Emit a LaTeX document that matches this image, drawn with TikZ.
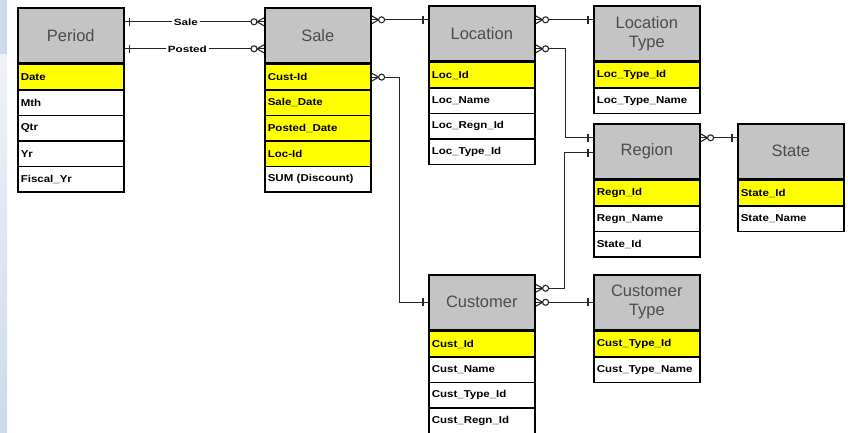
\documentclass[tikz,border=0pt]{standalone}
\usepackage{fontspec}
\usepackage{tikz}
\usetikzlibrary{positioning,calc}
\newfontfamily\hdrfont{Liberation Sans}
\newfontfamily\fldfont[FakeStretch=1.15]{Liberation Sans Bold}
\newfontfamily\lblfont[FakeStretch=1.3]{Liberation Sans Bold}
\definecolor{hdrgray}{HTML}{C4C4C4}
\definecolor{keyyel}{HTML}{FFFF00}
\definecolor{stripblue}{HTML}{CCDAEC}
\definecolor{striplite}{HTML}{F0F2FA}

\tikzset{
  hdr/.style={draw, line width=1.6pt, fill=hdrgray, anchor=north west,
    minimum width=106pt, minimum height=55pt, inner sep=0pt, align=center,
    text=black!70, font=\hdrfont\fontsize{16.5}{19}\selectfont},
  fld/.style={draw, line width=1.6pt, anchor=north west, minimum height=25.5pt,
    text width=100pt, inner xsep=3pt, inner ysep=0pt, align=left,
    font=\fldfont\fontsize{10}{12}\selectfont},
  rel/.style={line width=1.1pt, draw=black!85},
  lbl/.style={fill=white, inner xsep=2pt, inner ysep=1pt,
    font=\lblfont\fontsize{9}{10}\selectfont},
  % crow's foot with circle: zero or many
  pics/many/.style={code={
    \draw[rel] (0,-4) -- (-7,0) -- (0,4);
    \draw[rel, fill=white] (-10,0) circle (3pt);}},
  % single bar: one
  pics/one/.style={code={\draw[rel] (-5,-4) -- (-5,4);}}
}

% table: name, x, y, title, rows (text/fill)
\newcommand{\entity}[5]{%
  \node[hdr] (#1) at (#2,#3) {#4};
  \foreach \txt/\col [count=\i] in {#5}
    \node[fld, fill=\col] (#1-\i) at ($(#1.south west)+(0,{(\i-1)*25.5})$) {\txt};
}

\begin{document}
\begin{tikzpicture}[x=1pt, y=-1pt]
  \useasboundingbox (0,0) rectangle (848,433);
  \fill[stripblue] (0,0) rectangle (7,55);
  \shade[top color=striplite, bottom color=stripblue] (0,55) rectangle (7,433);

  \entity{period}{17}{7}{Period}{Date/keyyel, Mth/white, Qtr/white, Yr/white, Fiscal\_Yr/white}
  \entity{sale}{264}{7}{Sale}{Cust-Id/keyyel, Sale\_Date/keyyel, Posted\_Date/keyyel, Loc-Id/keyyel, SUM (Discount)/white}
  \entity{location}{428}{5}{Location}{Loc\_Id/keyyel, Loc\_Name/white, Loc\_Regn\_Id/white, Loc\_Type\_Id/white}
  \entity{loctype}{593}{5}{Location\\Type}{Loc\_Type\_Id/keyyel, Loc\_Type\_Name/white}
  \entity{region}{593}{123}{Region}{Regn\_Id/keyyel, Regn\_Name/white, State\_Id/white}
  \entity{state}{737}{123}{State}{State\_Id/keyyel, State\_Name/white}
  \entity{customer}{428}{274}{Customer}{Cust\_Id/keyyel, Cust\_Name/white, Cust\_Type\_Id/white, Cust\_Regn\_Id/white}
  \entity{custtype}{593}{274}{Customer\\Type}{Cust\_Type\_Id/keyyel, Cust\_Type\_Name/white}

  % period -- sale
  \draw[rel] ([yshift=13.5pt]period.east) -- node[lbl, pos=0.44]{Sale} ([yshift=13.5pt]sale.west);
  \draw[rel] ([yshift=-13.5pt]period.east) -- node[lbl, pos=0.45]{Posted} ([yshift=-13.5pt]sale.west);
  \pic[xscale=-1] at ([yshift=13.5pt]period.east) {one};
  \pic[xscale=-1] at ([yshift=-13.5pt]period.east) {one};
  \pic at ([yshift=13.5pt]sale.west) {many};
  \pic at ([yshift=-13.5pt]sale.west) {many};

  % sale -- location
  \draw[rel] ([yshift=15.5pt]sale.east) coordinate (s1) -- (location.west |- s1) coordinate (l0);
  \pic[xscale=-1] at (s1) {many};
  \pic at (l0) {one};

  % sale -- customer
  \draw[rel] (sale-1.east) -- ++(28,0) |- (customer.west);
  \pic[xscale=-1] at (sale-1.east) {many};
  \pic at (customer.west) {one};

  % location -- location type
  \draw[rel] ([yshift=13.5pt]location.east) coordinate (l1) -- (loctype.west |- l1) coordinate (t0);
  \pic[xscale=-1] at (l1) {many};
  \pic at (t0) {one};

  % location -- region
  \draw[rel] ([yshift=-15.5pt]location.east) -- ++(30,0) |- ([yshift=13.5pt]region.west);
  \pic[xscale=-1] at ([yshift=-15.5pt]location.east) {many};
  \pic at ([yshift=13.5pt]region.west) {one};

  % customer -- region
  \draw[rel] ([yshift=14pt]customer.east) -- ++(29,0) |- ([yshift=-1.5pt]region.west);
  \pic[xscale=-1] at ([yshift=14pt]customer.east) {many};
  \pic at ([yshift=-1.5pt]region.west) {one};

  % customer -- customer type
  \draw[rel] (customer.east) -- (custtype.west);
  \pic[xscale=-1] at (customer.east) {many};
  \pic at (custtype.west) {one};

  % region -- state
  \draw[rel] ([yshift=13.5pt]region.east) -- ([yshift=13.5pt]state.west);
  \pic[xscale=-1] at ([yshift=13.5pt]region.east) {many};
  \pic at ([yshift=13.5pt]state.west) {one};
\end{tikzpicture}
\end{document}
